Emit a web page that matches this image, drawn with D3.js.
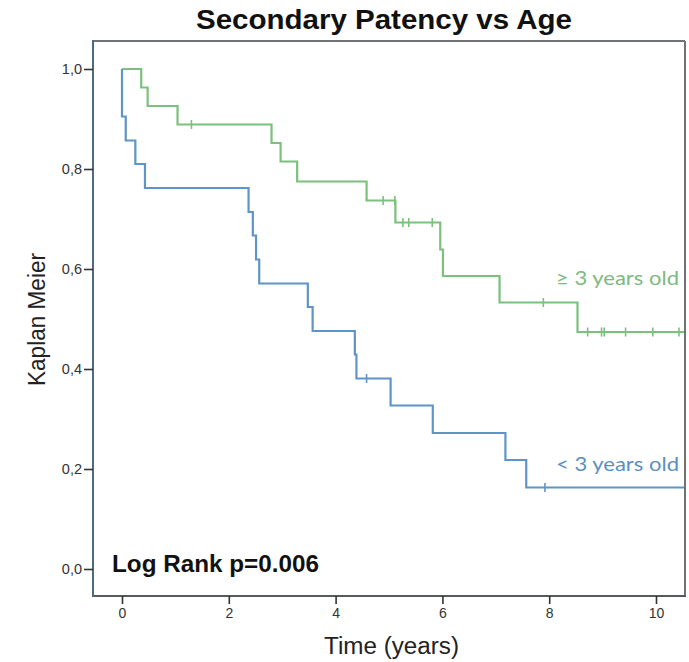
<!DOCTYPE html>
<html><head><meta charset="utf-8">
<script src="https://cdn.jsdelivr.net/npm/d3@7"></script>
<style>
html,body{margin:0;padding:0;background:#fff;}
svg{display:block;}
</style></head>
<body>
<svg id="chart" width="689" height="662"></svg>
<script>
// ---- data ----
const titleText = "Secondary Patency vs Age";
const xLabel = "Time (years)";
const yLabel = "Kaplan Meier";
const pText = "Log Rank p=0.006";
const xTicks = [0, 2, 4, 6, 8, 10];
const yTicks = [0, 0.2, 0.4, 0.6, 0.8, 1.0];

const groupNames = ["≥ 3 years old", "< 3 years old"];
// >= 3 years old
const oldTimes  = [0, 0.36, 0.48, 1.04, 2.80, 2.97, 3.28, 4.58, 5.12, 5.96, 6.01, 7.07, 8.53];
const oldSurv   = [1.0, 0.963, 0.926, 0.889, 0.852, 0.815, 0.775, 0.737, 0.693, 0.639, 0.586, 0.533, 0.474];
const oldCensor = [1.30, 4.89, 5.11, 5.26, 5.37, 5.81, 7.89, 8.72, 8.98, 9.03, 9.43, 9.94, 10.43];
// < 3 years old
const youngTimes  = [0, 0, 0.07, 0.25, 0.43, 2.37, 2.45, 2.51, 2.57, 3.48, 3.57, 4.36, 4.39, 5.03, 5.82, 7.18, 7.57];
const youngSurv   = [1.0, 0.905, 0.857, 0.810, 0.762, 0.714, 0.667, 0.619, 0.571, 0.524, 0.476, 0.429, 0.381, 0.327, 0.272, 0.218, 0.163];
const youngCensor = [4.58, 7.92];
const endTime = 10.6;

// ---- layout ----
const frame = {left: 93, right: 685, top: 41, bottom: 596};
const x = d3.scaleLinear().domain([0, 10]).range([122, 656]);
const y = d3.scaleLinear().domain([0, 1]).range([569, 69]);

const svg = d3.select("#chart");
const greenC = "#7bc07d", blueC = "#5f95c6";
const greenT = "#7dba7f", blueT = "#5b8fc0";
const arial = "'Liberation Sans', Arial, sans-serif";

// clip
svg.append("clipPath").attr("id","clip").append("rect")
  .attr("x", frame.left).attr("y", frame.top)
  .attr("width", frame.right - frame.left).attr("height", frame.bottom - frame.top);

// title
svg.append("text").attr("x", 196).attr("y", 29)
  .attr("font-family", arial).attr("font-weight","bold")
  .attr("font-size", 27).attr("fill","#111")
  .attr("textLength", 376).attr("lengthAdjust","spacingAndGlyphs")
  .text(titleText);

// curves
function stepPoints(times, surv){
  const pts = times.map((t,i)=>[t, surv[i]]);
  pts.push([endTime, surv[surv.length-1]]);
  return pts;
}
function survAt(times, surv, t){
  let v = surv[0];
  for (let i=0;i<times.length;i++){ if (times[i] <= t) v = surv[i]; }
  return v;
}
const line = d3.line().x(d=>x(d[0])).y(d=>y(d[1])).curve(d3.curveStepAfter);
const g = svg.append("g").attr("clip-path","url(#clip)");

function drawGroup(times, surv, censor, color){
  g.append("path").datum(stepPoints(times, surv))
    .attr("d", line).attr("fill","none").attr("stroke", color)
    .attr("stroke-width", 2.2).attr("stroke-linejoin","miter");
  g.selectAll(null).data(censor).enter().append("line")
    .attr("x1", d=>x(d)).attr("x2", d=>x(d))
    .attr("y1", d=>y(survAt(times, surv, d)) - 4.5)
    .attr("y2", d=>y(survAt(times, surv, d)) + 4.5)
    .attr("stroke", color).attr("stroke-width", 1.6);
}
drawGroup(oldTimes, oldSurv, oldCensor, greenC);
drawGroup(youngTimes, youngSurv, youngCensor, blueC);

// frame
svg.append("line").attr("x1",frame.left).attr("x2",frame.right).attr("y1",frame.top).attr("y2",frame.top)
  .attr("stroke","#6f7375").attr("stroke-width",2);
svg.append("line").attr("x1",frame.right).attr("x2",frame.right).attr("y1",frame.top).attr("y2",frame.bottom)
  .attr("stroke","#6f7375").attr("stroke-width",2);
svg.append("line").attr("x1",frame.left).attr("x2",frame.right+1).attr("y1",frame.bottom).attr("y2",frame.bottom)
  .attr("stroke","#555a5c").attr("stroke-width",2);
svg.append("line").attr("x1",frame.left).attr("x2",frame.left).attr("y1",frame.top-1).attr("y2",frame.bottom+1)
  .attr("stroke","#4f6a80").attr("stroke-width",2);

// axes
const yAxis = d3.axisLeft(y).tickValues(yTicks).tickSize(9).tickPadding(2)
  .tickFormat(d => d3.format(".1f")(d).replace(".", ","));
const yg = svg.append("g").attr("transform",`translate(${frame.left},0)`).call(yAxis);
yg.select(".domain").remove();
yg.selectAll(".tick line").attr("stroke","#333").attr("stroke-width",1.6);
yg.selectAll(".tick text").attr("font-family", arial)
  .attr("font-size",14.5).attr("fill","#333");

const xAxis = d3.axisBottom(x).tickValues(xTicks).tickSize(8).tickPadding(4).tickFormat(d3.format("d"));
const xg = svg.append("g").attr("transform",`translate(0,${frame.bottom})`).call(xAxis);
xg.select(".domain").remove();
xg.selectAll(".tick line").attr("stroke","#333").attr("stroke-width",1.6);
xg.selectAll(".tick text").attr("font-family", arial)
  .attr("font-size",14).attr("fill","#333");

// axis labels
svg.append("text").attr("x", 324).attr("y", 654)
  .attr("font-family", arial).attr("font-size",23).attr("fill","#222")
  .attr("textLength", 135).attr("lengthAdjust","spacingAndGlyphs")
  .text(xLabel);
svg.append("text").attr("transform","translate(45,386) rotate(-90)")
  .attr("font-family", arial).attr("font-size",23).attr("fill","#222")
  .attr("textLength", 133).attr("lengthAdjust","spacingAndGlyphs")
  .text(yLabel);

// group labels
svg.append("text").attr("x", 556).attr("y", 285)
  .attr("font-family","Lato, 'Open Sans', sans-serif").attr("font-size",20).attr("fill",greenT)
  .attr("textLength", 123).attr("lengthAdjust","spacingAndGlyphs")
  .text(groupNames[0]);
svg.append("text").attr("x", 556).attr("y", 471)
  .attr("font-family","Lato, 'Open Sans', sans-serif").attr("font-size",20).attr("fill",blueT)
  .attr("textLength", 123).attr("lengthAdjust","spacingAndGlyphs")
  .text(groupNames[1]);

// p value
svg.append("text").attr("x", 112).attr("y", 572)
  .attr("font-family", arial).attr("font-weight","bold")
  .attr("font-size",24).attr("fill","#111")
  .attr("textLength", 207).attr("lengthAdjust","spacingAndGlyphs")
  .text(pText);
</script>
</body></html>
